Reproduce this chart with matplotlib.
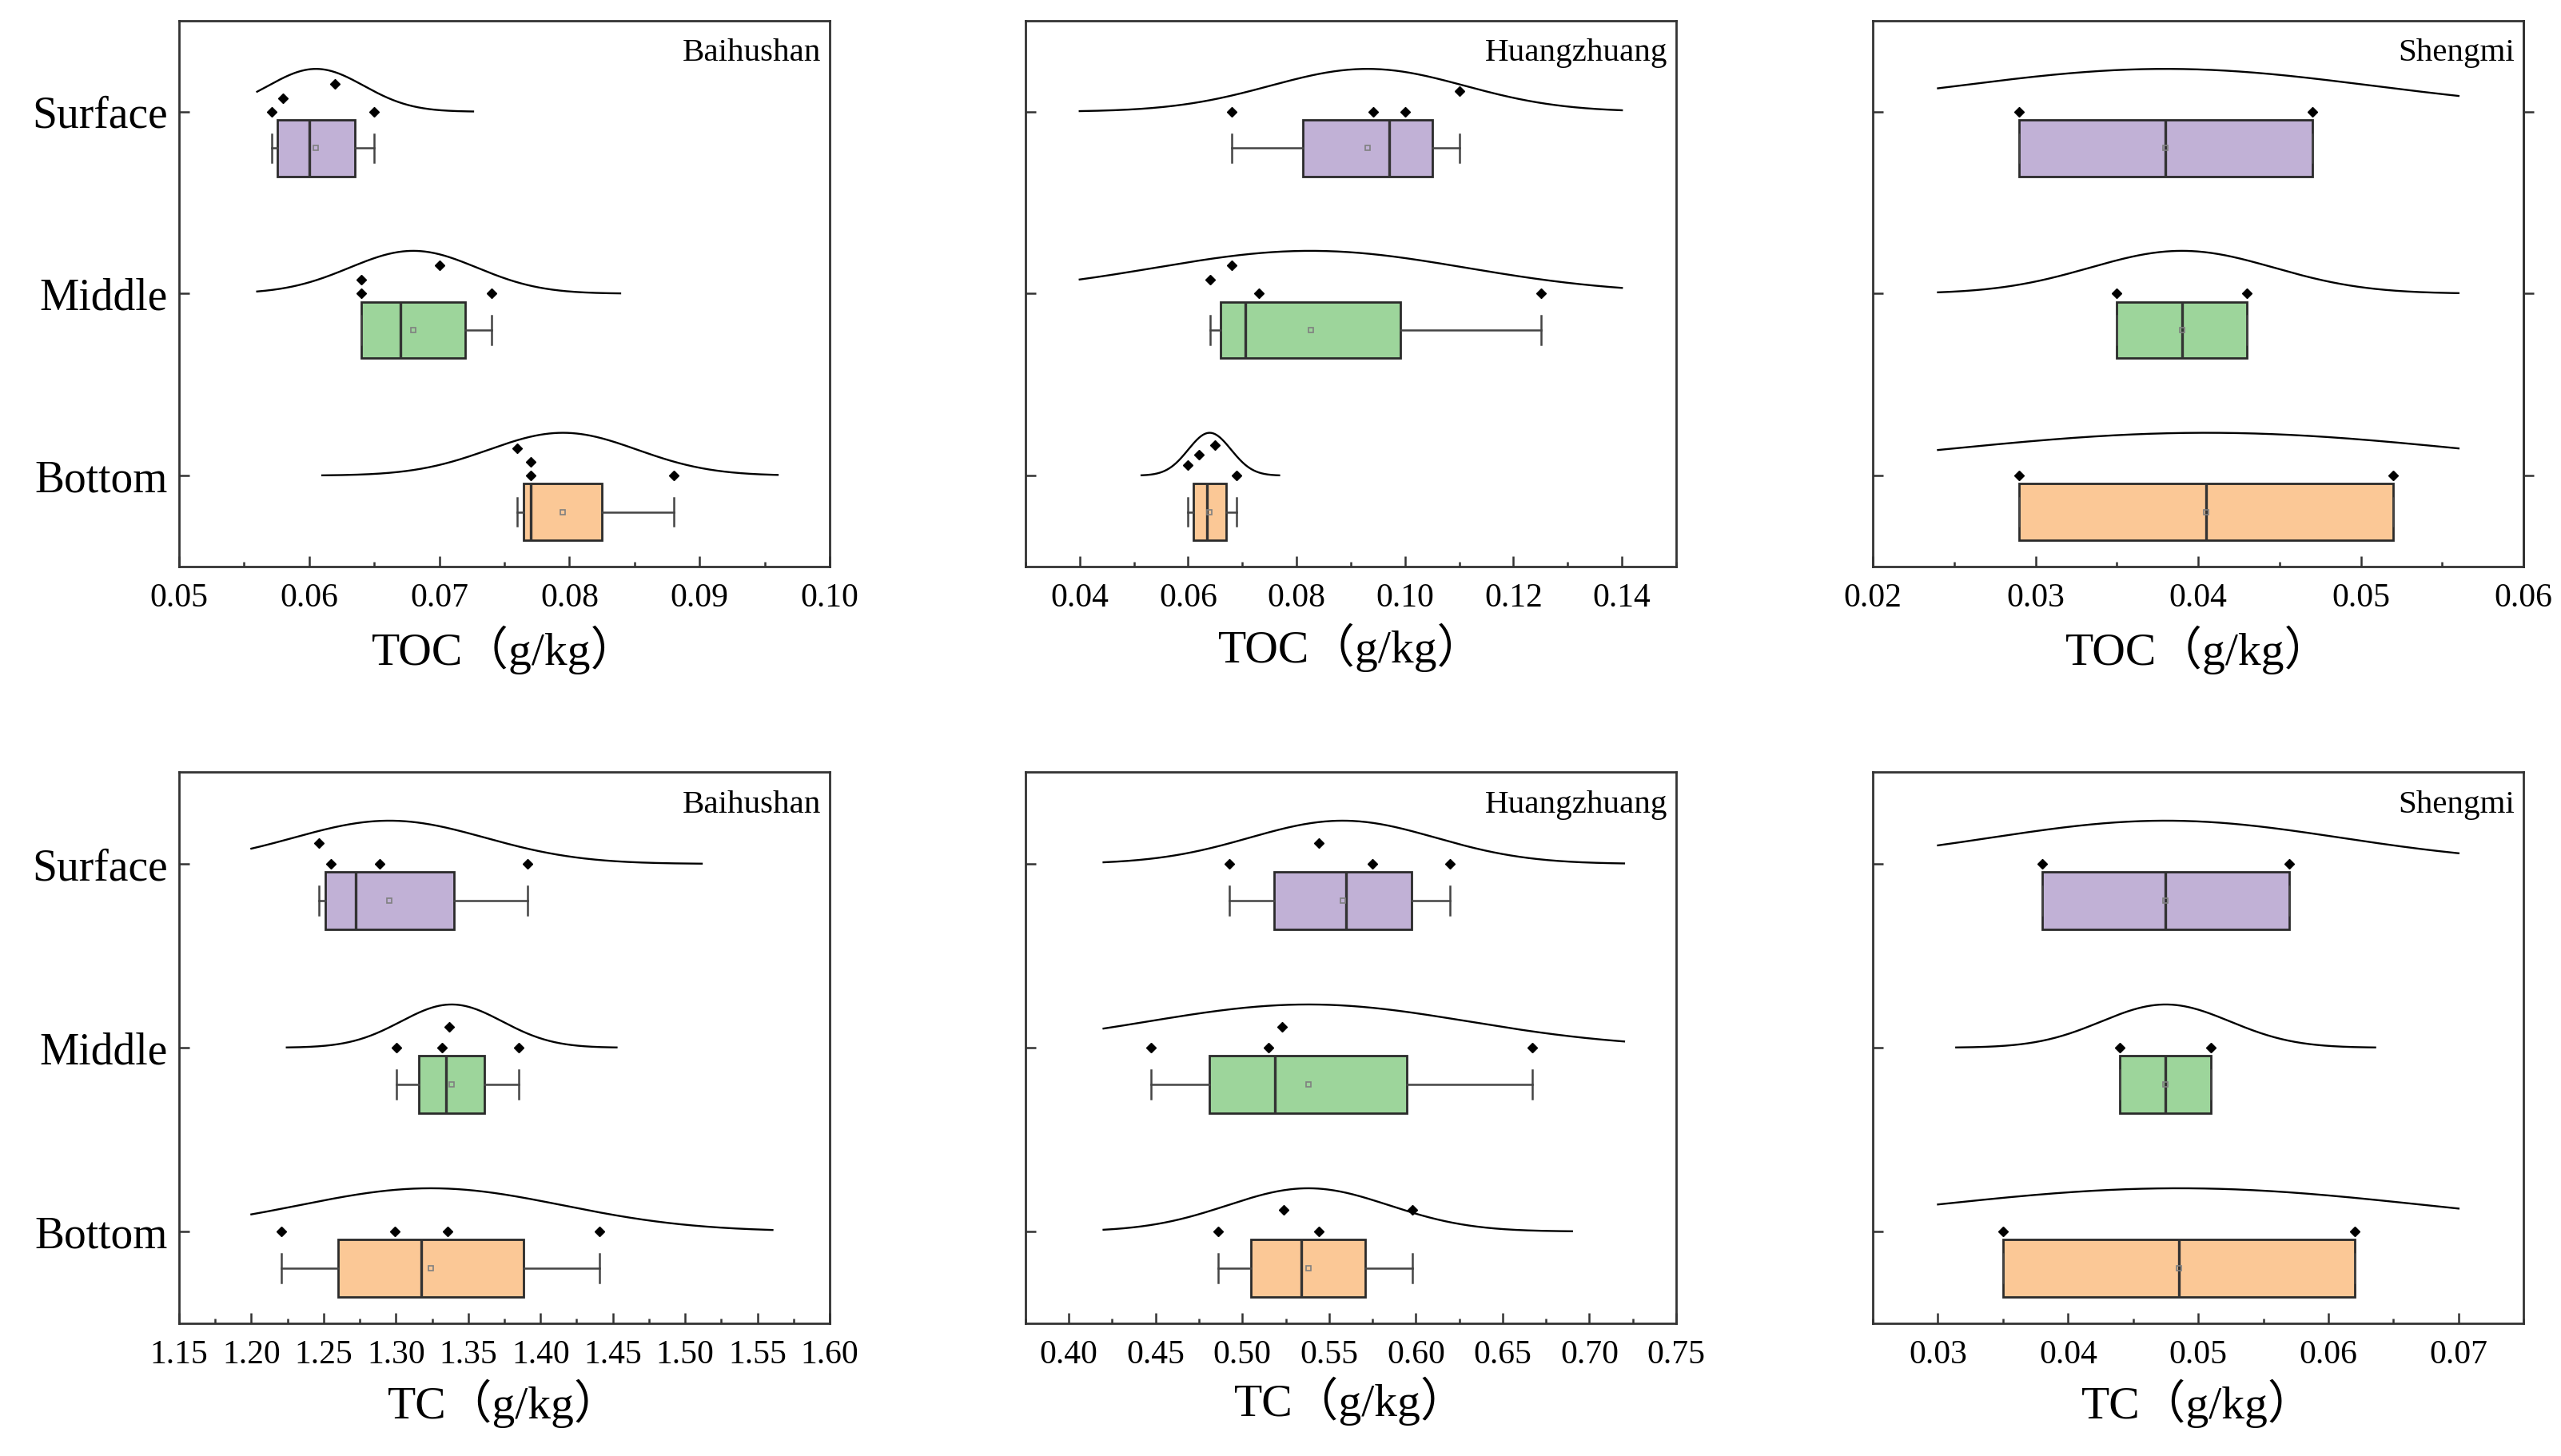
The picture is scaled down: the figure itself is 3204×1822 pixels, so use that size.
import matplotlib
matplotlib.use("Agg")
import matplotlib.pyplot as plt
import numpy as np
from matplotlib.ticker import FixedLocator, MultipleLocator, FormatStrFormatter

plt.rcParams['font.family'] = ['Liberation Serif', 'Noto Sans CJK SC']

layers = ["Surface", "Middle", "Bottom"]
sites = ["Baihushan", "Huangzhuang", "Shengmi"]
fill_colors = ["#C1B1D6", "#9DD59B", "#FBC896"]

# sample values per layer (Surface, Middle, Bottom)
toc_baihushan = [[0.0571, 0.0580, 0.0620, 0.0650],
                 [0.0640, 0.0640, 0.0700, 0.0740],
                 [0.0760, 0.0770, 0.0770, 0.0880]]
toc_huangzhuang = [[0.0681, 0.0941, 0.1000, 0.1101],
                   [0.0640, 0.0681, 0.0731, 0.1251],
                   [0.0599, 0.0620, 0.0650, 0.0690]]
toc_shengmi = [[0.0290, 0.0470],
               [0.0350, 0.0430],
               [0.0290, 0.0520]]
tc_baihushan = [[1.2470, 1.2551, 1.2889, 1.3909],
                [1.3001, 1.3319, 1.3370, 1.3851],
                [1.2210, 1.2993, 1.3358, 1.4405]]
tc_huangzhuang = [[0.4923, 0.5440, 0.5751, 0.6197],
                  [0.4472, 0.5150, 0.5229, 0.6669],
                  [0.4862, 0.5240, 0.5440, 0.5978]]
tc_shengmi = [[0.0380, 0.0570],
              [0.0440, 0.0510],
              [0.0350, 0.0620]]

# vertical jitter of the dots above each layer line
toc_baihushan_lift = [[0, 0.075, 0.152, 0], [0.075, 0, 0.154, 0], [0.15, 0.077, 0, 0]]
toc_huangzhuang_lift = [[0, 0, 0, 0.113], [0.077, 0.154, 0, 0], [0.058, 0.113, 0.169, 0]]
toc_shengmi_lift = [[0, 0], [0, 0], [0, 0]]
tc_baihushan_lift = [[0.111, 0, 0, 0], [0, 0, 0.111, 0], [0, 0, 0, 0]]
tc_huangzhuang_lift = [[0, 0.114, 0, 0], [0, 0, 0.111, 0], [0, 0.116, 0, 0.116]]
tc_shengmi_lift = [[0, 0], [0, 0], [0, 0]]

# x extent of each normal curve
toc_baihushan_span = [[0.056, 0.0726], [0.056, 0.0839], [0.061, 0.096]]
toc_huangzhuang_span = [[0.04, 0.14], [0.04, 0.14], [0.0514, 0.0768]]
toc_shengmi_span = [[0.024, 0.056], [0.024, 0.056], [0.024, 0.056]]
tc_baihushan_span = [[1.20, 1.5115], [1.2245, 1.4526], [1.20, 1.5604]]
tc_huangzhuang_span = [[0.42, 0.72], [0.42, 0.72], [0.42, 0.69]]
tc_shengmi_span = [[0.03, 0.07], [0.0314, 0.0636], [0.03, 0.07]]

toc_baihushan_ticks = [0.05, 0.06, 0.07, 0.08, 0.09, 0.10]
toc_huangzhuang_ticks = [0.04, 0.06, 0.08, 0.10, 0.12, 0.14]
toc_shengmi_ticks = [0.02, 0.03, 0.04, 0.05, 0.06]
tc_baihushan_ticks = [1.15, 1.20, 1.25, 1.30, 1.35, 1.40, 1.45, 1.50, 1.55, 1.60]
tc_huangzhuang_ticks = [0.40, 0.45, 0.50, 0.55, 0.60, 0.65, 0.70, 0.75]
tc_shengmi_ticks = [0.03, 0.04, 0.05, 0.06, 0.07]

PEAK = 0.235


def hinges(v):
    s = np.sort(v)
    h = len(s) // 2
    if len(s) % 2:
        return np.median(s[:h + 1]), np.median(s), np.median(s[h:])
    return np.median(s[:h]), np.median(s), np.median(s[h:])


def panel(ax, groups, lifts, spans, site, xlim, ticks, minor, xlabel, ylabels, lpad):
    for i, (vals, lift, span) in enumerate(zip(groups, lifts, spans)):
        pos = i + 1
        q1, med, q3 = hinges(vals)
        stats = dict(med=med, q1=q1, q3=q3, whislo=min(vals), whishi=max(vals),
                     mean=np.mean(vals), fliers=[])
        ax.bxp([stats], positions=[pos + 0.2], widths=0.31, orientation='horizontal',
               patch_artist=True, showmeans=True, capwidths=[0.155], manage_ticks=False,
               boxprops=dict(facecolor=fill_colors[i], edgecolor='#2a2a2a', linewidth=2),
               medianprops=dict(color='#333333', linewidth=2.4),
               whiskerprops=dict(color='#444444', linewidth=1.8),
               capprops=dict(color='#444444', linewidth=1.8),
               meanprops=dict(marker='s', markersize=5, markerfacecolor='none',
                              markeredgecolor='#808080', markeredgewidth=1.2))
        mu, sd = np.mean(vals), np.std(vals, ddof=1)
        xs = np.linspace(span[0], span[1], 300)
        ax.plot(xs, pos - PEAK * np.exp(-0.5 * ((xs - mu) / sd) ** 2), color='k', lw=1.7)
        ax.plot(vals, pos - np.array(lift), 'D', color='k', markersize=6.5, zorder=5)

    ax.set_xlim(*xlim)
    ax.set_ylim(3.5, 0.5)
    ax.xaxis.set_major_locator(FixedLocator(ticks))
    ax.xaxis.set_minor_locator(MultipleLocator(minor))
    ax.xaxis.set_major_formatter(FormatStrFormatter('%.2f'))
    ax.set_yticks([1, 2, 3])
    if ylabels:
        ax.set_yticklabels(layers, fontsize=40)
    else:
        ax.set_yticklabels([])
    ax.tick_params(axis='x', which='major', direction='in', length=9.5, width=1.8,
                   labelsize=30, pad=15, color='#333333')
    ax.tick_params(axis='x', which='minor', direction='in', length=4.5, width=1.8,
                   color='#333333')
    ax.tick_params(axis='y', direction='in', length=9.5, width=1.8, pad=10, color='#333333')
    for s in ax.spines.values():
        s.set_linewidth(2)
        s.set_color('#333333')
    ax.set_xlabel(xlabel, fontsize=41.5, labelpad=lpad)
    ax.text(0.9865, 0.926, site, transform=ax.transAxes, ha='right', va='baseline',
            fontsize=29.5)


fig = plt.figure(figsize=(32.04, 18.22), dpi=100)
lefts = [0.0699, 0.4004, 0.7313]
w = 0.2541
top_axes = [fig.add_axes([l, 0.6109, w, 0.3749]) for l in lefts]
bot_axes = [fig.add_axes([l, 0.0911, w, 0.3787]) for l in lefts]

panel(top_axes[0], toc_baihushan, toc_baihushan_lift, toc_baihushan_span, sites[0],
      (0.05, 0.10), toc_baihushan_ticks, 0.005, 'TOC（g/kg）', True, 10.5)
panel(top_axes[1], toc_huangzhuang, toc_huangzhuang_lift, toc_huangzhuang_span, sites[1],
      (0.03, 0.15), toc_huangzhuang_ticks, 0.01, 'TOC（g/kg）', False, 8.5)
panel(top_axes[2], toc_shengmi, toc_shengmi_lift, toc_shengmi_span, sites[2],
      (0.02, 0.06), toc_shengmi_ticks, 0.005, 'TOC（g/kg）', False, 10.5)
panel(bot_axes[0], tc_baihushan, tc_baihushan_lift, tc_baihushan_span, sites[0],
      (1.15, 1.60), tc_baihushan_ticks, 0.025, 'TC（g/kg）', True, 7.5)
panel(bot_axes[1], tc_huangzhuang, tc_huangzhuang_lift, tc_huangzhuang_span, sites[1],
      (0.375, 0.75), tc_huangzhuang_ticks, 0.025, 'TC（g/kg）', False, 5.5)
panel(bot_axes[2], tc_shengmi, tc_shengmi_lift, tc_shengmi_span, sites[2],
      (0.025, 0.075), tc_shengmi_ticks, 0.005, 'TC（g/kg）', False, 7.5)

# outward ticks on the right spine of the top-right panel
sec = top_axes[2].secondary_yaxis('right')
sec.set_yticks([1, 2, 3])
sec.set_yticklabels([])
sec.tick_params(direction='out', length=9.5, width=1.8, color='#333333')
sec.spines['right'].set_linewidth(2)
sec.spines['right'].set_color('#333333')

fig.savefig('out.png', dpi=100, facecolor='white')
